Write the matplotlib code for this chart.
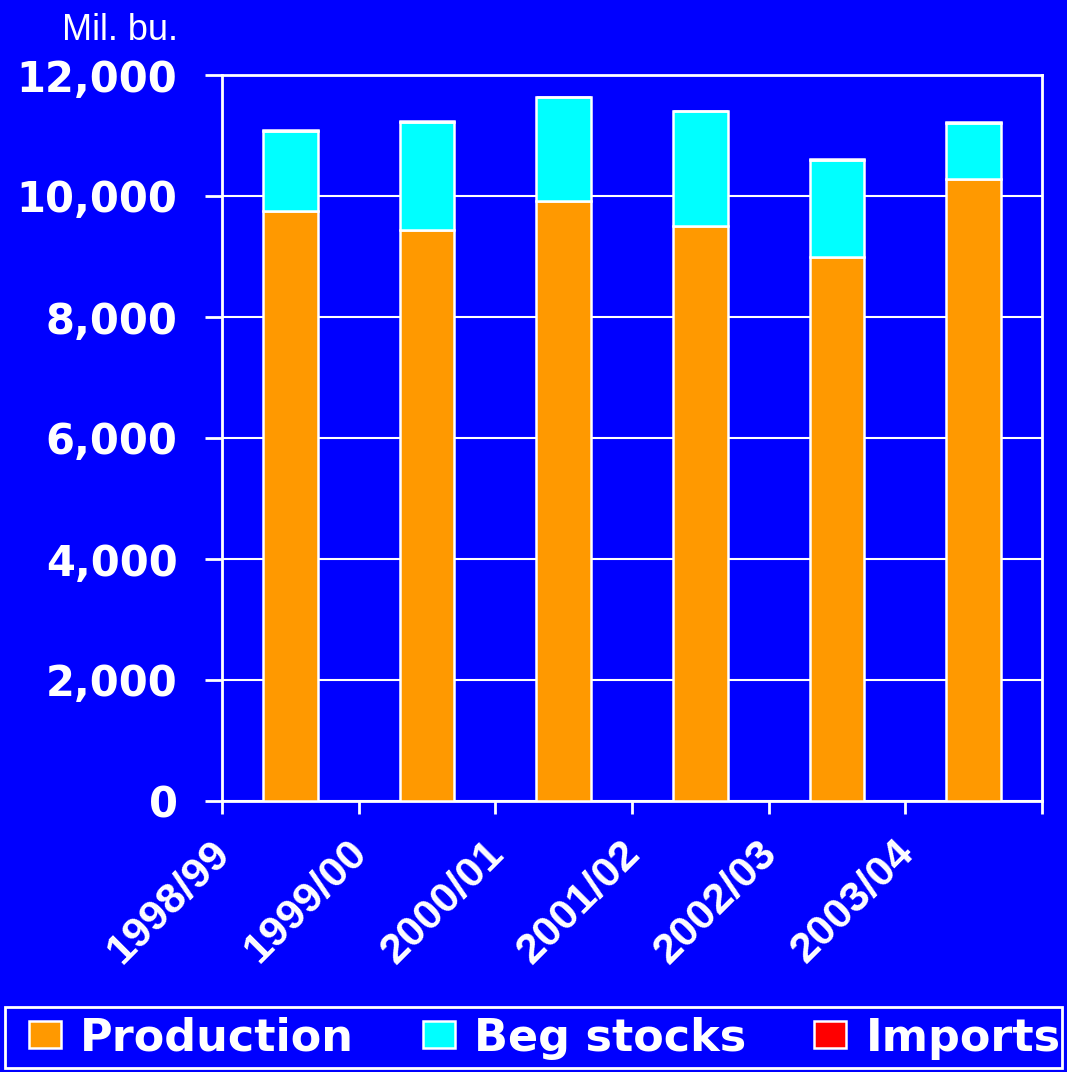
import matplotlib
matplotlib.use('Agg')
import matplotlib.pyplot as plt
import matplotlib.transforms as mtransforms
from matplotlib.patches import Rectangle
import numpy as np

# Corn supply, million bushels
years = ["1998/99", "1999/00", "2000/01", "2001/02", "2002/03", "2003/04"]
production = [9759, 9431, 9915, 9503, 8990, 10280]
beg_stocks = [1308, 1787, 1718, 1899, 1600, 930]
imports = [19, 15, 7, 10, 14, 15]

BLUE = '#0000FF'
WHITE = 'white'
W, H = 1067, 1072

fig = plt.figure(figsize=(W / 100, H / 100), dpi=100, facecolor=BLUE)
ax = fig.add_axes([222/W, 1 - 801/H, (1042 - 222)/W, (801 - 75)/H])
ax.set_facecolor(BLUE)

x = np.arange(len(years))
w = 0.4
prod = np.array(production)
beg = np.array(beg_stocks)
imp = np.array(imports)

ax.bar(x, prod, w, color='#FF9900', edgecolor=WHITE, linewidth=1.8, label='Production', zorder=3)
ax.bar(x, beg, w, bottom=prod, color='#00FFFF', edgecolor=WHITE, linewidth=1.8, label='Beg stocks', zorder=3)
ax.bar(x, imp, w, bottom=prod + beg, color='#FF0000', edgecolor=WHITE, linewidth=1.8, label='Imports', zorder=3)

ax.set_xlim(-0.5, len(years) - 0.5)
ax.set_ylim(0, 12000)
ax.set_yticks(range(0, 12001, 2000))
ax.set_yticklabels([f'{v:,}' for v in range(0, 12001, 2000)],
                   fontfamily='DejaVu Sans', fontweight='bold', fontsize=30, color=WHITE)
ax.grid(axis='y', color=WHITE, linewidth=1.5, zorder=1)

# ticks on category boundaries, year labels hang from the left boundary
ax.set_xticks(np.arange(len(years) + 1) - 0.5)
ax.set_xticklabels([])
lbl_trans = ax.get_xaxis_transform() + mtransforms.ScaledTranslation(-0.12, -0.32, fig.dpi_scale_trans)
for i, yr in enumerate(years):
    ax.text(i - 0.5, 0, yr, transform=lbl_trans, rotation=45, rotation_mode='anchor',
            ha='right', va='top', fontfamily='Liberation Sans', fontweight='bold',
            fontsize=31, color=WHITE, clip_on=False)

ax.tick_params(axis='y', length=12, width=2, color=WHITE, pad=20, direction='out')
ax.tick_params(axis='x', length=9, width=2, color=WHITE, pad=0, direction='out')
for s in ax.spines.values():
    s.set_color(WHITE)
    s.set_linewidth(2)

fig.text(62/W, 1 - 40/H, 'Mil. bu.', fontfamily='Liberation Sans', fontsize=26,
         color=WHITE, ha='left', va='baseline')

# legend entries with a separate frame spanning the figure width
leg = fig.legend(loc='center left', bbox_to_anchor=(29/W, 1 - 1038/H), ncol=3, frameon=False,
                 prop={'family': 'DejaVu Sans', 'weight': 'bold', 'size': 32},
                 handlelength=0.72, handleheight=0.55, handletextpad=0.43,
                 columnspacing=1.54, borderpad=0, borderaxespad=0)
for t in leg.get_texts():
    t.set_color(WHITE)
fig.patches.append(Rectangle((5/W, 4/H), 1057/W, 61/H, transform=fig.transFigure,
                             facecolor='none', edgecolor=WHITE, linewidth=2))

fig.savefig('out.png', dpi=100, facecolor=BLUE)
